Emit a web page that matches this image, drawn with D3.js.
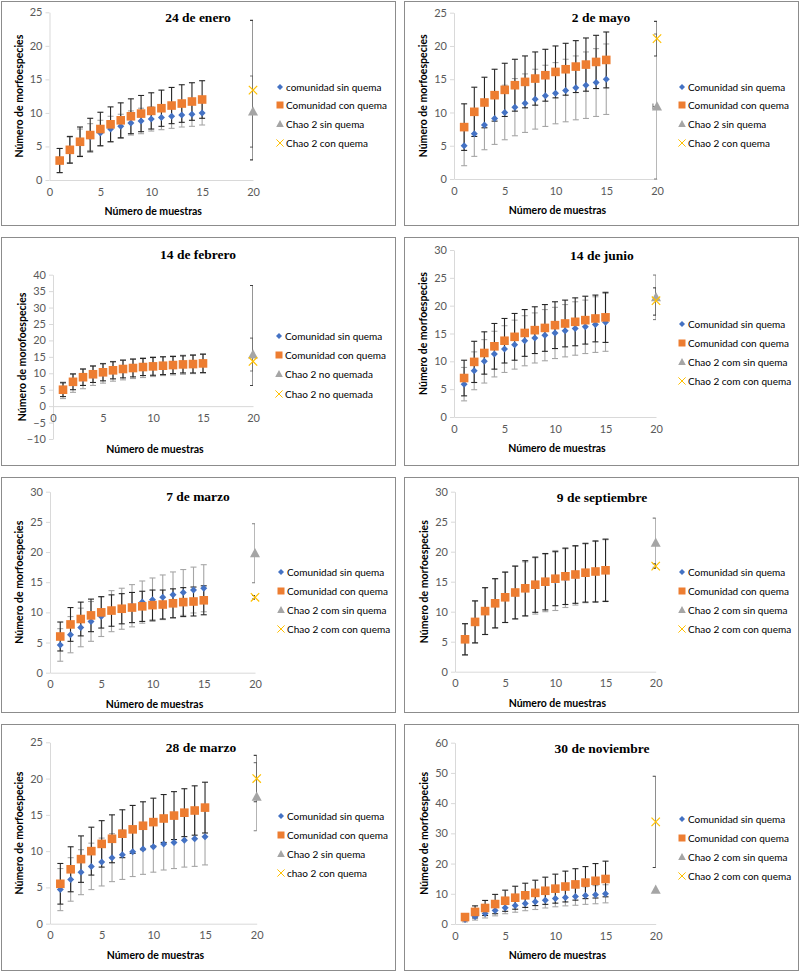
<!DOCTYPE html>
<html><head><meta charset="utf-8">
<script src="https://cdn.jsdelivr.net/npm/d3@7"></script>
<style>body{margin:0;background:#fff} svg{display:block}</style>
</head><body>
<svg id="c" width="800" height="974"></svg>
<script>
// ---------------- DATA ----------------
const muestras = [1,2,3,4,5,6,7,8,9,10,11,12,13,14,15];
const xTicks = [0,5,10,15,20];
const chaoX = [20, 20];

// 24 de enero
const ene24Sin    = [2.9,4.5,5.6,6.4,7.0,7.6,8.0,8.5,8.8,9.1,9.3,9.5,9.7,9.8,10.0];
const ene24SinErr = [1.8,1.9,2.0,2.0,1.9,1.9,1.8,1.8,1.9,1.8,1.8,1.8,1.8,1.8,1.8];
const ene24Con    = [2.9,4.5,5.7,6.7,7.6,8.3,8.9,9.5,9.9,10.3,10.7,11.1,11.4,11.7,12.0];
const ene24ConErr = [1.8,2.0,2.2,2.5,2.5,2.6,2.6,2.6,2.7,2.7,2.7,2.7,2.8,2.8,2.8];
const ene24Chao   = [10.2, 13.4];
const ene24ChaoLo = [5.3, 10.4];
const ene24ChaoHi = [5.3, 10.4];
const ene24YTicks = [0,5,10,15,20,25];
const ene24Legend = ["comunidad  sin quema","Comunidad con quema","Chao 2 sin quema","Chao 2 con quema"];

// 2 de mayo
const may2Sin    = [5.0,6.8,8.1,9.1,10.0,10.8,11.4,12.0,12.5,12.9,13.3,13.7,14.1,14.5,15.0];
const may2SinErr = [3.0,3.4,3.7,3.9,4.1,4.3,4.4,4.5,4.6,4.6,4.7,4.8,5.0,5.1,5.3];
const may2Con    = [7.8,10.1,11.5,12.6,13.4,14.1,14.6,15.1,15.6,16.1,16.5,16.9,17.2,17.6,17.9];
const may2ConErr = [3.5,3.7,3.8,3.9,4.0,3.9,3.9,4.0,3.9,3.9,3.9,3.9,4.0,4.0,4.2];
const may2Chao   = [10.9, 21.1];
const may2ChaoLo = [10.9, 2.6];
const may2ChaoHi = [10.9, 2.6];
const may2ChaoXErr = [0.4, 0];
const may2YTicks = [0,5,10,15,20,25];
const may2Legend = ["Comunidad sin quema","Comunidad con quema","Chao 2 sin quema","Chao 2 con quema"];

// 14 de febrero
const feb14Sin    = [4.8,7.0,8.3,9.3,10.0,10.6,11.0,11.4,11.7,12.0,12.2,12.4,12.6,12.8,13.0];
const feb14SinErr = [2.5,2.8,3.0,3.0,3.0,3.0,3.0,3.0,3.0,3.0,2.9,2.9,2.9,2.9,2.9];
const feb14Con    = [5.0,7.4,8.8,9.7,10.3,10.9,11.3,11.6,11.9,12.1,12.3,12.5,12.7,12.8,13.0];
const feb14ConErr = [2.1,2.4,2.5,2.5,2.6,2.6,2.7,2.7,2.6,2.7,2.7,2.6,2.6,2.7,2.8];
const feb14Chao   = [15.7, 13.6];
const feb14ChaoLo = [5.0, 7.3];
const feb14ChaoHi = [5.0, 23.1];
const feb14YTicks = [-10,-5,0,5,10,15,20,25,30,35,40];
const feb14Legend = ["Comunidad sin quema","Comunidad con quema","Chao 2 no quemada","Chao 2 no quemada"];

// 14 de junio
const jun14Sin    = [5.9,8.3,10.0,11.3,12.2,13.0,13.7,14.2,14.7,15.1,15.5,15.9,16.2,16.6,17.0];
const jun14SinErr = [3.0,3.4,3.9,4.1,4.2,4.4,4.5,4.5,4.6,4.6,4.7,4.8,4.8,5.0,5.2];
const jun14Con    = [7.0,9.9,11.5,12.7,13.7,14.4,15.1,15.6,16.0,16.5,16.8,17.1,17.4,17.7,17.9];
const jun14ConErr = [3.2,3.7,3.8,4.1,4.0,4.2,4.2,4.2,4.2,4.2,4.2,4.3,4.3,4.2,4.5];
const jun14Chao   = [21.5, 20.9];
const jun14ChaoLo = [4.0, 2.6];
const jun14ChaoHi = [4.0, 2.3];
const jun14YTicks = [0,5,10,15,20,25,30];
const jun14Legend = ["Comunidad sin quema","Comunidad con quema","Chao 2 com sin quema","Chao 2 com con quema"];

// 7 de marzo
const mar7Sin    = [4.6,6.3,7.5,8.5,9.3,10.2,10.6,11.1,11.7,12.1,12.5,12.9,13.3,13.7,14.0];
const mar7SinErr = [2.7,3.0,3.2,3.3,3.3,3.4,3.4,3.5,3.5,3.6,3.7,3.8,3.8,3.8,3.9];
const mar7Con    = [6.0,8.0,8.9,9.5,10.0,10.3,10.6,10.8,11.0,11.2,11.3,11.5,11.7,11.8,12.0];
const mar7ConErr = [2.4,2.8,2.8,2.7,2.6,2.6,2.5,2.5,2.5,2.5,2.4,2.4,2.4,2.4,2.4];
const mar7Chao   = [19.8, 12.5];
const mar7ChaoLo = [4.9, 0.3];
const mar7ChaoHi = [4.9, 0.3];
const mar7YTicks = [0,5,10,15,20,25,30];
const mar7Legend = ["Comunidad sin quema","Comunidad con quema","Chao 2 com sin quema","Chao 2 com con quema"];

// 9 de septiembre
const sep9Sin    = [5.4,8.3,10.1,11.4,12.4,13.2,13.8,14.3,14.8,15.2,15.6,16.0,16.4,16.7,16.9];
const sep9SinErr = [2.6,3.5,3.9,4.1,4.2,4.4,4.5,4.7,4.8,5.0,4.9,4.9,4.9,5.0,5.1];
const sep9Con    = [5.4,8.3,10.1,11.4,12.4,13.2,13.9,14.5,15.0,15.5,15.9,16.2,16.5,16.7,16.9];
const sep9ConErr = [2.6,3.5,3.9,4.1,4.2,4.4,4.6,4.6,4.7,4.5,4.7,4.8,4.9,5.1,5.2];
const sep9Chao   = [21.5, 17.6];
const sep9ChaoLo = [4.1, 0.4];
const sep9ChaoHi = [4.1, 0.4];
const sep9YTicks = [0,5,10,15,20,25,30];
const sep9Legend = ["Comunidad sin quema","Comunidad con quema","Chao 2 com sin quema","Chao 2 com con quema"];

// 28 de marzo
const mar28Sin    = [4.7,6.1,7.1,7.9,8.5,9.1,9.5,9.9,10.3,10.6,11.0,11.2,11.5,11.7,12.0];
const mar28SinErr = [2.9,3.0,3.1,3.2,3.3,3.3,3.4,3.4,3.5,3.5,3.6,3.6,3.7,3.8,3.9];
const mar28Con    = [5.5,7.5,8.9,10.0,11.0,11.7,12.4,13.0,13.5,14.0,14.5,14.9,15.3,15.6,16.0];
const mar28ConErr = [2.8,3.1,3.2,3.3,3.2,3.3,3.3,3.3,3.3,3.3,3.3,3.3,3.3,3.4,3.5];
const mar28Chao   = [17.5, 20.0];
const mar28ChaoLo = [4.7, 3.2];
const mar28ChaoHi = [4.7, 3.2];
const mar28YTicks = [0,5,10,15,20,25];
const mar28Legend = ["Comunidad sin quema","Comunidad con quema","Chao 2 sin quema","chao 2 con quema"];

// 30 de noviembre
const nov30Sin    = [1.5,2.5,3.5,4.5,5.4,6.1,6.8,7.4,7.9,8.4,8.8,9.1,9.4,9.7,10.0];
const nov30SinErr = [0.8,1.2,1.5,1.8,2.0,2.2,2.4,2.6,2.6,2.7,2.8,2.9,2.9,3.0,3.0];
const nov30Con    = [2.3,4.0,5.3,6.6,7.7,8.7,9.5,10.3,11.0,11.7,12.4,13.1,13.7,14.3,14.9];
const nov30ConErr = [1.0,2.0,2.5,3.2,3.5,3.8,4.0,4.2,4.5,4.8,5.1,5.2,5.3,5.7,5.9];
const nov30Chao   = [11.3, 33.8];
const nov30ChaoLo = [0, 15.1];
const nov30ChaoHi = [0, 15.1];
const nov30YTicks = [0,10,20,30,40,50,60];
const nov30Legend = ["Comunidad sin quema","Comunidad con quema","Chao 2 com sin quema","Chao 2 com con quema"];

// ---------------- LAYOUT ----------------
const panels = [
 {title:"24 de enero", sin:ene24Sin, sinE:ene24SinErr, con:ene24Con, conE:ene24ConErr, chao:ene24Chao, lo:ene24ChaoLo, hi:ene24ChaoHi, yt:ene24YTicks, lg:ene24Legend,
  f:[1,1,395,225], x0:49.5, x20:253, yT:12.3, yB:180, tx:198, ty:22, lx:286, ly:[87,105,124,143]},
 {title:"2 de mayo", sin:may2Sin, sinE:may2SinErr, con:may2Con, conE:may2ConErr, chao:may2Chao, lo:may2ChaoLo, hi:may2ChaoHi, xe:may2ChaoXErr, yt:may2YTicks, lg:may2Legend,
  f:[404,1,395,225], x0:454, x20:657, yT:12.7, yB:179, tx:601, ty:22, lx:688, ly:[87,105,124,143]},
 {title:"14 de febrero", sin:feb14Sin, sinE:feb14SinErr, con:feb14Con, conE:feb14ConErr, chao:feb14Chao, lo:feb14ChaoLo, hi:feb14ChaoHi, yt:feb14YTicks, lg:feb14Legend,
  f:[1,237,395,229], x0:53, x20:253, yT:274.7, yB:439, tx:198, ty:259, lx:285, ly:[336,355,374,394], xlabDy:14},
 {title:"14 de junio", sin:jun14Sin, sinE:jun14SinErr, con:jun14Con, conE:jun14ConErr, chao:jun14Chao, lo:jun14ChaoLo, hi:jun14ChaoHi, yt:jun14YTicks, lg:jun14Legend,
  f:[404,237,395,229], x0:454, x20:656, yT:250, yB:417, tx:602, ty:260, lx:688, ly:[324,343,362,381]},
 {title:"7 de marzo", sin:mar7Sin, sinE:mar7SinErr, con:mar7Con, conE:mar7ConErr, chao:mar7Chao, lo:mar7ChaoLo, hi:mar7ChaoHi, yt:mar7YTicks, lg:mar7Legend,
  f:[1,477,395,236], x0:50, x20:255, yT:491.7, yB:672.7, tx:198, ty:501, lx:287, ly:[572,591,610,629]},
 {title:"9 de septiembre", sin:sep9Sin, sinE:sep9SinErr, con:sep9Con, conE:sep9ConErr, chao:sep9Chao, lo:sep9ChaoLo, hi:sep9ChaoHi, yt:sep9YTicks, lg:sep9Legend,
  f:[404,477,395,236], x0:455, x20:655.7, yT:491.7, yB:671.7, tx:602, ty:502, lx:688, ly:[572,591,610,629]},
 {title:"28 de marzo", sin:mar28Sin, sinE:mar28SinErr, con:mar28Con, conE:mar28ConErr, chao:mar28Chao, lo:mar28ChaoLo, hi:mar28ChaoHi, yt:mar28YTicks, lg:mar28Legend,
  f:[1,724,395,247], x0:50, x20:256.7, yT:742.3, yB:923.7, tx:201, ty:752, lx:287, ly:[816,835,854,873]},
 {title:"30 de noviembre", sin:nov30Sin, sinE:nov30SinErr, con:nov30Con, conE:nov30ConErr, chao:nov30Chao, lo:nov30ChaoLo, hi:nov30ChaoHi, yt:nov30YTicks, lg:nov30Legend,
  f:[404,724,395,247], x0:455, x20:655.7, yT:742.7, yB:924, tx:602, ty:753, lx:688, ly:[819,838,857,876]}
];

const C = {blue:"#4472c4", orange:"#ed7d31", gray:"#a5a5a5", yellow:"#ffc000",
           errSin:"#a6a6a6", errCon:"#262626", errT:"#7f7f7f", errX:"#404040"};
const FONT = "Lato, 'Open Sans', sans-serif";
const svg = d3.select("#c");

const diamond = s => `M0,${-s}L${s},0L0,${s}L${-s},0Z`;
const square = s => `M${-s},${-s}H${s}V${s}H${-s}Z`;
const tri = s => `M0,${-s*1.05}L${s},${s*0.8}L${-s},${s*0.8}Z`;
const cross = s => `M${-s},${-s}L${s},${s}M${-s},${s}L${s},${-s}`;

panels.forEach((p, pi) => {
  const g = svg.append("g");
  g.append("rect").attr("x", p.f[0]+0.5).attr("y", p.f[1]+0.5).attr("width", p.f[2]-1).attr("height", p.f[3]-1)
   .attr("fill","#fff").attr("stroke","#8c8c8c").attr("stroke-width",1);

  const yMin = d3.min(p.yt), yMax = d3.max(p.yt);
  const x = d3.scaleLinear().domain([0,20]).range([p.x0, p.x20]);
  const y = d3.scaleLinear().domain([yMin, yMax]).range([p.yB, p.yT]);

  const ya = g.append("g").attr("transform",`translate(${p.x0},0)`)
    .call(d3.axisLeft(y).tickValues(p.yt).tickSize(4).tickSizeOuter(0).tickPadding(3));
  ya.select(".domain").attr("stroke","#d9d9d9");
  ya.selectAll(".tick line").attr("stroke","#d9d9d9");
  ya.selectAll(".tick text").attr("fill","#595959").style("font-family",FONT).style("font-size","11px");

  const xa = g.append("g").attr("transform",`translate(0,${y(0)})`)
    .call(d3.axisBottom(x).tickValues(xTicks).tickSize(0).tickSizeOuter(0).tickPadding(8));
  xa.select(".domain").attr("stroke","#d9d9d9");
  xa.selectAll(".tick text").attr("fill","#595959").style("font-family",FONT).style("font-size","11px");

  g.append("text").attr("x", p.x0 + 0.51*(p.x20-p.x0)).attr("y", p.yB + (p.xlabDy || 35))
   .attr("text-anchor","middle").style("font-family",FONT).style("font-size","10.5px").style("font-weight","bold")
   .attr("fill","#000").text("Número de muestras");
  g.append("text").attr("transform",`translate(${p.x0-27},${(p.yT+p.yB)/2}) rotate(-90)`)
   .attr("text-anchor","middle").style("font-family",FONT).style("font-size","10.5px").style("font-weight","bold")
   .attr("fill","#000").text(pi===2 ? "Número de morofoespecies" : "Número de morfoespecies");

  g.append("text").attr("x",p.tx).attr("y",p.ty).attr("text-anchor","middle")
   .style("font-family","'Liberation Serif','Times New Roman',serif").style("font-size","13.5px").style("font-weight","bold")
   .text(p.title);

  const clipId = "clip"+pi;
  g.append("clipPath").attr("id",clipId).append("rect")
    .attr("x",p.x0).attr("y",p.yT-2).attr("width",p.x20-p.x0).attr("height",p.yB-p.yT+4);
  const pg = g.append("g").attr("clip-path",`url(#${clipId})`);

  const errBar = (gx, cx, lo, hi, col) => {
    gx.append("line").attr("x1",cx).attr("x2",cx).attr("y1",y(lo)).attr("y2",y(hi)).attr("stroke",col).attr("stroke-width",1.1);
    [lo,hi].forEach(v => gx.append("line").attr("x1",cx-3).attr("x2",cx+3).attr("y1",y(v)).attr("y2",y(v)).attr("stroke",col).attr("stroke-width",1.1));
  };

  const allG = g.append("g");
  muestras.forEach((m,i) => errBar(allG, x(m), p.sin[i]-p.sinE[i], p.sin[i]+p.sinE[i], C.errSin));
  muestras.forEach((m,i) => errBar(allG, x(m), p.con[i]-p.conE[i], p.con[i]+p.conE[i], C.errCon));
  if (p.hi[0] > 0 || p.lo[0] > 0) errBar(pg, x(chaoX[0]), p.chao[0]-p.lo[0], p.chao[0]+p.hi[0], C.errT);
  if (p.hi[1] > 0 || p.lo[1] > 0) errBar(pg, x(chaoX[1]), p.chao[1]-p.lo[1], p.chao[1]+p.hi[1], C.errX);
  if (p.xe && p.xe[0] > 0) {
    const yy = y(p.chao[0]);
    pg.append("line").attr("x1",x(chaoX[0]-p.xe[0])).attr("x2",x(chaoX[0]+p.xe[0])).attr("y1",yy).attr("y2",yy).attr("stroke",C.errT).attr("stroke-width",1.1);
    pg.append("line").attr("x1",x(chaoX[0]-p.xe[0])).attr("x2",x(chaoX[0]-p.xe[0])).attr("y1",yy-3).attr("y2",yy+3).attr("stroke",C.errT).attr("stroke-width",1.1);
  }

  allG.selectAll(null).data(muestras).join("path")
    .attr("transform",(m,i)=>`translate(${x(m)},${y(p.sin[i])})`).attr("d",diamond(3.5)).attr("fill",C.blue);
  allG.selectAll(null).data(muestras).join("path")
    .attr("transform",(m,i)=>`translate(${x(m)},${y(p.con[i])})`).attr("d",square(4.3)).attr("fill",C.orange);
  allG.append("path").attr("transform",`translate(${x(chaoX[0])},${y(p.chao[0])})`).attr("d",tri(5)).attr("fill",C.gray);
  allG.append("path").attr("transform",`translate(${x(chaoX[1])},${y(p.chao[1])})`).attr("d",cross(4.2))
    .attr("stroke",C.yellow).attr("stroke-width",1.2).attr("fill","none");

  const lg = g.append("g");
  const shapes = [
    {d:diamond(3), fill:C.blue},
    {d:square(3.5), fill:C.orange},
    {d:tri(3.8), fill:C.gray},
    {d:cross(3.6), stroke:C.yellow}
  ];
  p.lg.forEach((t,i) => {
    const s = shapes[i];
    const path = lg.append("path").attr("transform",`translate(${p.lx-6},${p.ly[i]})`).attr("d",s.d);
    if (s.fill) path.attr("fill",s.fill); else path.attr("fill","none").attr("stroke",s.stroke).attr("stroke-width",1);
    lg.append("text").attr("x",p.lx).attr("y",p.ly[i]).attr("dy","0.35em")
      .style("font-family",FONT).style("font-size","10px").attr("fill","#000").text(t);
  });
});
</script>
</body></html>
